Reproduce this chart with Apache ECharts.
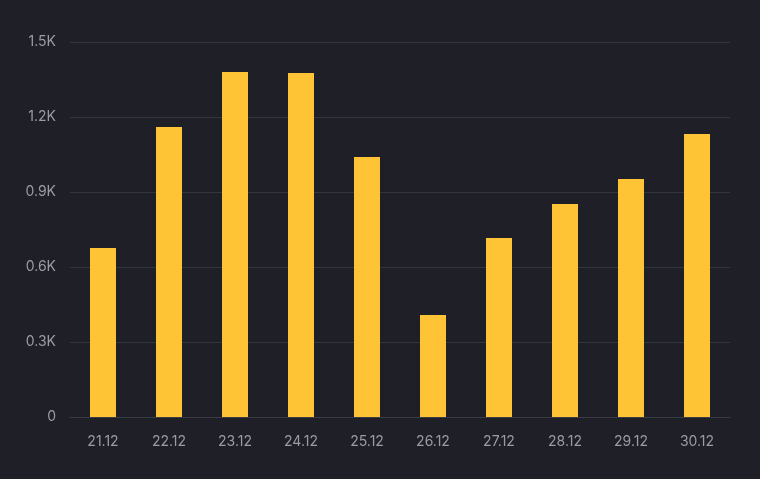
<!DOCTYPE html>
<html><head><meta charset="utf-8">
<script src="https://cdn.jsdelivr.net/npm/echarts@6/dist/echarts.min.js"></script>
<style>html,body{margin:0;background:#1f2027;}#c{width:760px;height:479px;}</style>
</head><body><div id="c"></div>
<script>
const categories = ['21.12','22.12','23.12','24.12','25.12','26.12','27.12','28.12','29.12','30.12'];
const values = [676,1160,1380,1376,1040,408,716,852,952,1132];
const chart = echarts.init(document.getElementById('c'));
chart.setOption({
  backgroundColor:'#1f2027',
  grid:{left:70,right:30,top:42,bottom:62},
  xAxis:{type:'category',data:categories,
    axisLine:{lineStyle:{color:'#3a3c44'}},axisTick:{show:false},
    axisLabel:{color:'#9a9ba6',fontSize:14,fontFamily:'Inter',margin:18}},
  yAxis:{type:'value',min:0,max:1500,interval:300,
    splitLine:{lineStyle:{color:'#33353d'}},
    axisLabel:{color:'#9a9ba6',fontSize:14,fontFamily:'Inter',margin:14,
      formatter:v=>v===0?'0':(v/1000).toFixed(1)+'K'}},
  series:[{type:'bar',data:values,barWidth:26,itemStyle:{color:'#ffc436'}}]
});
</script></body></html>
